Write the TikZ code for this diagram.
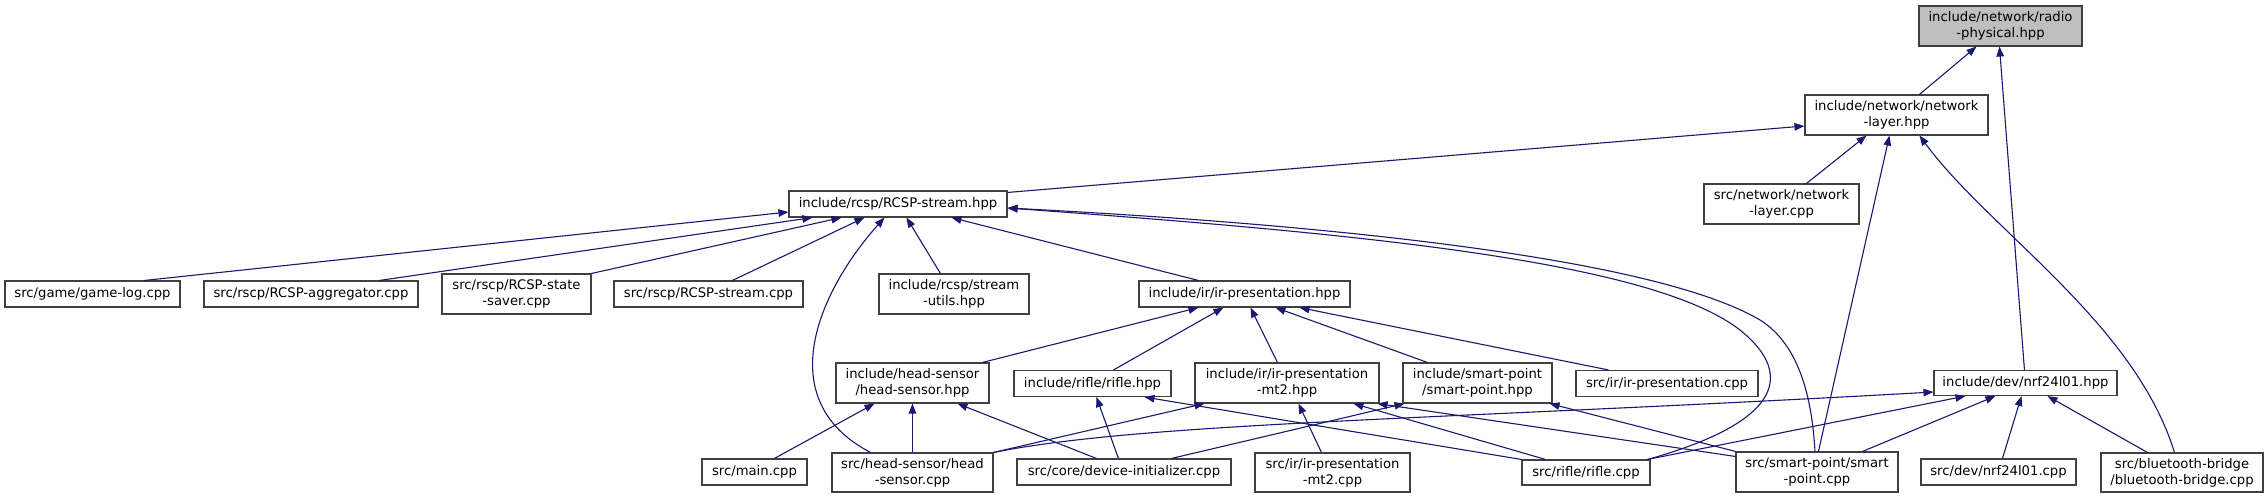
\documentclass[tikz,border=0pt]{standalone}
\usepackage{fontspec}
\setmainfont{DejaVu Sans}
\usetikzlibrary{arrows.meta,calc}
\definecolor{edgeblue}{HTML}{191970}
\definecolor{boxborder}{HTML}{404040}
\definecolor{focusfill}{HTML}{BFBFBF}
\begin{document}
\begin{tikzpicture}[x=1pt,y=-1pt,
  file/.style={draw=boxborder, line width=1.1pt, fill=white, inner sep=0pt, align=center,
    font=\fontsize{13.2}{16}\selectfont, anchor=center},
  focus/.style={file, fill=focusfill},
  dep/.style={draw=edgeblue, line width=1.1pt, arrows={Triangle[length=10pt,width=7.5pt]-}},
]
\useasboundingbox (0,0) rectangle (2268,499);
\fill[white] (0,0) rectangle (2268,499);

% nodes
\node[focus, minimum width=163pt, minimum height=40pt] (radio) at (2000.5,26) {include/network/radio\\-physical.hpp};
\node[file, minimum width=183pt, minimum height=40pt] (netl) at (1896.5,115) {include/network/network\\-layer.hpp};
\node[file, minimum width=155pt, minimum height=40pt] (netlcpp) at (1781.5,204) {src/network/network\\-layer.cpp};
\node[file, minimum width=218pt, minimum height=26pt] (rcsp) at (898,204) {include/rcsp/RCSP-stream.hpp};
\node[file, minimum width=175pt, minimum height=26pt] (gamelog) at (92.5,294) {src/game/game-log.cpp};
\node[file, minimum width=214pt, minimum height=26pt] (aggr) at (311,294) {src/rscp/RCSP-aggregator.cpp};
\node[file, minimum width=149pt, minimum height=40pt] (saver) at (516.5,294) {src/rscp/RCSP-state\\-saver.cpp};
\node[file, minimum width=189pt, minimum height=26pt] (rcspcpp) at (708.5,294) {src/rscp/RCSP-stream.cpp};
\node[file, minimum width=150pt, minimum height=40pt] (utils) at (954,294) {include/rcsp/stream\\-utils.hpp};
\node[file, minimum width=211pt, minimum height=26pt] (irp) at (1244.5,294) {include/ir/ir-presentation.hpp};
\node[file, minimum width=153pt, minimum height=40pt] (hsh) at (912.5,383) {include/head-sensor\\/head-sensor.hpp};
\node[file, minimum width=157pt, minimum height=26pt] (rifleh) at (1092.5,383.5) {include/rifle/rifle.hpp};
\node[file, minimum width=184pt, minimum height=40pt] (mt2h) at (1287,383) {include/ir/ir-presentation\\-mt2.hpp};
\node[file, minimum width=149pt, minimum height=40pt] (sph) at (1477.5,383) {include/smart-point\\/smart-point.hpp};
\node[file, minimum width=182pt, minimum height=26pt] (irpcpp) at (1667,383.5) {src/ir/ir-presentation.cpp};
\node[file, minimum width=183pt, minimum height=25pt] (nrfh) at (2025.5,383) {include/dev/nrf24l01.hpp};
\node[file, minimum width=105pt, minimum height=26pt] (main) at (754.5,472) {src/main.cpp};
\node[file, minimum width=161pt, minimum height=39pt] (hscpp) at (912.5,472.5) {src/head-sensor/head\\-sensor.cpp};
\node[file, minimum width=214pt, minimum height=26pt] (devinit) at (1124,472) {src/core/device-initializer.cpp};
\node[file, minimum width=155pt, minimum height=39pt] (mt2cpp) at (1332.5,472.5) {src/ir/ir-presentation\\-mt2.cpp};
\node[file, minimum width=128pt, minimum height=25pt] (riflecpp) at (1586,472.5) {src/rifle/rifle.cpp};
\node[file, minimum width=162pt, minimum height=40pt] (spcpp) at (1817,472) {src/smart-point/smart\\-point.cpp};
\node[file, minimum width=155pt, minimum height=26pt] (nrfcpp) at (1998.5,472) {src/dev/nrf24l01.cpp};
\node[file, minimum width=162pt, minimum height=39pt] (btcpp) at (2182,472.5) {src/bluetooth-bridge\\/bluetooth-bridge.cpp};

% edges (arrow tip at the included file)
\draw[dep] ([xshift=58pt]radio.south west) -- ([xshift=115pt]netl.north west);
\draw[dep] ([xshift=81pt]radio.south west) -- ([xshift=91pt]nrfh.north west);
\draw[dep] ([yshift=-11pt]netl.west) -- ([yshift=-2pt]rcsp.north east);
\draw[dep] ([xshift=62pt]netl.south west) -- ([xshift=103pt]netlcpp.north west);
\draw[dep] ([xshift=85pt]netl.south west) -- ([xshift=83pt]spcpp.north west);
\draw[dep] ([xshift=115pt]netl.south west) .. controls +(70,95) and +(-40,-130) .. ([xshift=74pt]btcpp.north west);

\draw[dep] ([yshift=-8pt]rcsp.west) -- ([xshift=140pt]gamelog.north west);
\draw[dep] ([xshift=24pt]rcsp.south west) -- ([xshift=176pt]aggr.north west);
\draw[dep] ([xshift=53pt]rcsp.south west) -- (saver.north east);
\draw[dep] ([xshift=76pt]rcsp.south west) -- ([xshift=119pt]rcspcpp.north west);
\draw[dep] ([xshift=96pt]rcsp.south west) .. controls +(-65,73) and +(-101,-53) .. ([xshift=39pt]hscpp.north west);
\draw[dep] ([xshift=118pt]rcsp.south west) -- ([xshift=62pt]utils.north west);
\draw[dep] ([xshift=163pt]rcsp.south west) -- ([xshift=60pt]irp.north west);
\draw[dep] ([yshift=-4pt]rcsp.east) .. controls +(343,25) and +(-90,-70) .. (1740,330)
  .. controls +(50,40) and +(143,-40) .. ([xshift=-3pt]riflecpp.north east);
\draw[dep] ([yshift=-4pt]rcsp.east) .. controls +(293,15) and +(-110,-65) .. (1760,320)
  .. controls +(40,25) and +(-3,-52) .. ([xshift=-2pt]spcpp.north);

\draw[dep] ([xshift=60pt]irp.south west) -- ([xshift=147pt]hsh.north west);
\draw[dep] ([xshift=85pt]irp.south west) -- ([xshift=100pt]rifleh.north west);
\draw[dep] ([xshift=112pt]irp.south west) -- ([xshift=83pt]mt2h.north west);
\draw[dep] ([xshift=137pt]irp.south west) -- ([xshift=25pt]sph.north west);
\draw[dep] ([xshift=161pt]irp.south west) -- ([xshift=33pt]irpcpp.north west);

\draw[dep] ([xshift=39pt]hsh.south west) -- ([xshift=73pt]main.north west);
\draw[dep] ([xshift=77pt]hsh.south west) -- ([xshift=81pt]hscpp.north west);
\draw[dep] ([xshift=122pt]hsh.south west) -- ([xshift=80pt]devinit.north west);

\draw[dep] ([xshift=83pt]rifleh.south west) -- ([xshift=102pt]devinit.north west);
\draw[dep] ([xshift=131pt]rifleh.south west) -- (riflecpp.north west);

\draw[dep] ([xshift=10pt]mt2h.south west) -- (hscpp.north east);
\draw[dep] ([xshift=104pt]mt2h.south west) -- ([xshift=67pt]mt2cpp.north west);
\draw[dep] ([xshift=159pt]mt2h.south west) -- ([xshift=24pt]riflecpp.north west);
\draw[dep] ([xshift=-2pt]mt2h.south east) -- ([yshift=-5pt]spcpp.north west);

\draw[dep] ([xshift=2pt]sph.south west) -- ([xshift=155pt]devinit.north west);
\draw[dep] ([xshift=-3pt]sph.south east) -- (spcpp.north west);

\draw[dep] ([yshift=-9pt]nrfh.west) .. controls +(-500,28) and +(150,-30) .. (hscpp.north east);
\draw[dep] ([xshift=32pt]nrfh.south west) -- ([xshift=-3pt]riflecpp.north east);
\draw[dep] ([xshift=62pt]nrfh.south west) -- ([xshift=127pt]spcpp.north west);
\draw[dep] ([xshift=88pt]nrfh.south west) -- ([xshift=82pt]nrfcpp.north west);
\draw[dep] ([xshift=114pt]nrfh.south west) -- ([xshift=47pt]btcpp.north west);
\end{tikzpicture}
\end{document}
